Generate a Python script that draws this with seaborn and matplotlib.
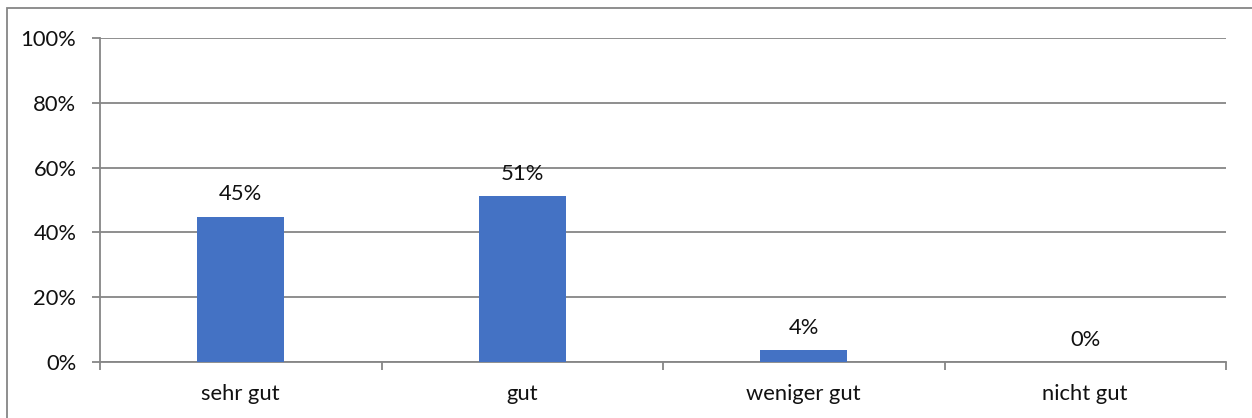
import matplotlib
matplotlib.use("Agg")
import matplotlib.pyplot as plt
import seaborn as sns
import pandas as pd
from matplotlib.patches import Rectangle
from matplotlib.ticker import PercentFormatter, FixedLocator

categories = ["sehr gut", "gut", "weniger gut", "nicht gut"]
values = [0.448, 0.512, 0.037, 0.0]
value_labels = ["45%", "51%", "4%", "0%"]
y_ticks = [0.0, 0.2, 0.4, 0.6, 0.8, 1.0]

sns.set_theme(style="white")
plt.rcParams['font.family'] = ['Lato', 'DejaVu Sans']

df = pd.DataFrame({"cat": categories, "val": values})

W, H = 1252, 418
fig = plt.figure(figsize=(W / 100, H / 100), dpi=100)
ax = fig.add_axes([100 / W, 1 - 362 / H, (1226 - 100) / W, (362 - 38) / H])

gray = "#868686"
sns.barplot(data=df, x="cat", y="val", color="#4472C4", width=0.31,
            saturation=1, ax=ax, zorder=3)
for p in ax.patches:
    p.set_edgecolor("none")

ax.set_xlim(-0.5, 3.5)
ax.set_ylim(0, 1.0)
ax.set_yticks(y_ticks)
ax.yaxis.set_major_formatter(PercentFormatter(1.0, decimals=0))
ax.grid(axis="y", color=gray, linewidth=1.3, zorder=0)
ax.set_axisbelow(True)
ax.set_xlabel("")
ax.set_ylabel("")

for s in ["top", "right"]:
    ax.spines[s].set_visible(False)
for s in ["left", "bottom"]:
    ax.spines[s].set_visible(True)
    ax.spines[s].set_color(gray)
    ax.spines[s].set_linewidth(1.3)

fs = 15.8
txt = "#111111"
ax.tick_params(axis="y", which="major", left=True, length=6, width=1.3,
               color=gray, labelsize=fs, labelcolor=txt, pad=11)
ax.tick_params(axis="x", which="major", bottom=False, labelsize=fs,
               labelcolor=txt, pad=10)
ax.xaxis.set_minor_locator(FixedLocator([-0.5, 0.5, 1.5, 2.5, 3.5]))
ax.tick_params(axis="x", which="minor", bottom=True, length=6, width=1.3,
               color=gray)

for i, (v, lab) in enumerate(zip(values, value_labels)):
    ax.annotate(lab, (i, v), xytext=(0, 9), textcoords="offset points",
                ha="center", va="bottom", fontsize=fs, color=txt)

# cropped outer border (top and left edges visible)
fig.add_artist(Rectangle((7 / W, -0.2), 2.0, 1.2 - 8 / H, transform=fig.transFigure,
                         fill=False, edgecolor=gray, linewidth=1.3))

fig.savefig("out.png", dpi=100)
